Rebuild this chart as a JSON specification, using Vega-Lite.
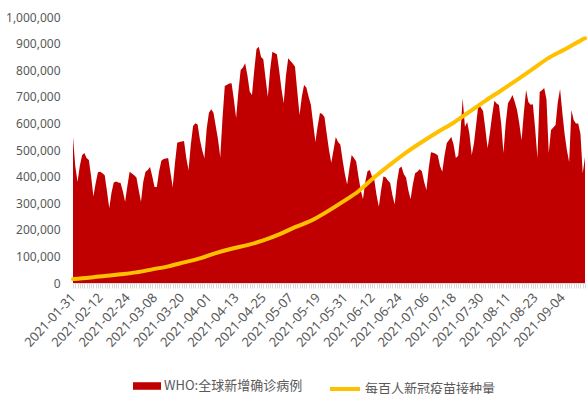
{
"$schema": "https://vega.github.io/schema/vega-lite/v6.json",
"width": 512, "height": 266,
"autosize": "none",
"padding": {"left": 73, "top": 17, "right": 3, "bottom": 111},
"background": "white",
"config": {"view": {"stroke": null}},
"datasets": {
"cases": [
{"d":"2021-01-31","v":549000},{"d":"2021-02-01","v":440000},{"d":"2021-02-02","v":380000},{"d":"2021-02-03","v":440000},{"d":"2021-02-04","v":480000},{"d":"2021-02-05","v":489000},{"d":"2021-02-06","v":470000},{"d":"2021-02-07","v":462000},{"d":"2021-02-08","v":400000},{"d":"2021-02-09","v":325000},
{"d":"2021-02-10","v":375000},{"d":"2021-02-11","v":416000},{"d":"2021-02-12","v":418000},{"d":"2021-02-13","v":413000},{"d":"2021-02-14","v":405000},{"d":"2021-02-15","v":345000},{"d":"2021-02-16","v":281000},{"d":"2021-02-17","v":340000},{"d":"2021-02-18","v":378000},{"d":"2021-02-19","v":382000},
{"d":"2021-02-20","v":378000},{"d":"2021-02-21","v":376000},{"d":"2021-02-22","v":345000},{"d":"2021-02-23","v":305000},{"d":"2021-02-24","v":365000},{"d":"2021-02-25","v":418000},{"d":"2021-02-26","v":412000},{"d":"2021-02-27","v":405000},{"d":"2021-02-28","v":397000},{"d":"2021-03-01","v":350000},
{"d":"2021-03-02","v":305000},{"d":"2021-03-03","v":380000},{"d":"2021-03-04","v":418000},{"d":"2021-03-05","v":425000},{"d":"2021-03-06","v":436000},{"d":"2021-03-07","v":400000},{"d":"2021-03-08","v":361000},{"d":"2021-03-09","v":361000},{"d":"2021-03-10","v":420000},{"d":"2021-03-11","v":460000},
{"d":"2021-03-12","v":466000},{"d":"2021-03-13","v":468000},{"d":"2021-03-14","v":470000},{"d":"2021-03-15","v":415000},{"d":"2021-03-16","v":361000},{"d":"2021-03-17","v":450000},{"d":"2021-03-18","v":527000},{"d":"2021-03-19","v":530000},{"d":"2021-03-20","v":532000},{"d":"2021-03-21","v":534000},
{"d":"2021-03-22","v":470000},{"d":"2021-03-23","v":425000},{"d":"2021-03-24","v":520000},{"d":"2021-03-25","v":590000},{"d":"2021-03-26","v":601000},{"d":"2021-03-27","v":596000},{"d":"2021-03-28","v":540000},{"d":"2021-03-29","v":500000},{"d":"2021-03-30","v":470000},{"d":"2021-03-31","v":580000},
{"d":"2021-04-01","v":640000},{"d":"2021-04-02","v":653000},{"d":"2021-04-03","v":640000},{"d":"2021-04-04","v":590000},{"d":"2021-04-05","v":540000},{"d":"2021-04-06","v":474000},{"d":"2021-04-07","v":620000},{"d":"2021-04-08","v":741000},{"d":"2021-04-09","v":745000},{"d":"2021-04-10","v":750000},
{"d":"2021-04-11","v":751000},{"d":"2021-04-12","v":690000},{"d":"2021-04-13","v":620000},{"d":"2021-04-14","v":720000},{"d":"2021-04-15","v":801000},{"d":"2021-04-16","v":810000},{"d":"2021-04-17","v":826000},{"d":"2021-04-18","v":780000},{"d":"2021-04-19","v":720000},{"d":"2021-04-20","v":707000},
{"d":"2021-04-21","v":800000},{"d":"2021-04-22","v":880000},{"d":"2021-04-23","v":888000},{"d":"2021-04-24","v":850000},{"d":"2021-04-25","v":841000},{"d":"2021-04-26","v":770000},{"d":"2021-04-27","v":699000},{"d":"2021-04-28","v":800000},{"d":"2021-04-29","v":869000},{"d":"2021-04-30","v":865000},
{"d":"2021-05-01","v":860000},{"d":"2021-05-02","v":800000},{"d":"2021-05-03","v":730000},{"d":"2021-05-04","v":676000},{"d":"2021-05-05","v":780000},{"d":"2021-05-06","v":845000},{"d":"2021-05-07","v":835000},{"d":"2021-05-08","v":825000},{"d":"2021-05-09","v":813000},{"d":"2021-05-10","v":720000},
{"d":"2021-05-11","v":632000},{"d":"2021-05-12","v":700000},{"d":"2021-05-13","v":744000},{"d":"2021-05-14","v":735000},{"d":"2021-05-15","v":700000},{"d":"2021-05-16","v":670000},{"d":"2021-05-17","v":600000},{"d":"2021-05-18","v":530000},{"d":"2021-05-19","v":590000},{"d":"2021-05-20","v":639000},
{"d":"2021-05-21","v":635000},{"d":"2021-05-22","v":624000},{"d":"2021-05-23","v":560000},{"d":"2021-05-24","v":500000},{"d":"2021-05-25","v":452000},{"d":"2021-05-26","v":500000},{"d":"2021-05-27","v":549000},{"d":"2021-05-28","v":530000},{"d":"2021-05-29","v":521000},{"d":"2021-05-30","v":462000},
{"d":"2021-05-31","v":410000},{"d":"2021-06-01","v":370000},{"d":"2021-06-02","v":430000},{"d":"2021-06-03","v":481000},{"d":"2021-06-04","v":470000},{"d":"2021-06-05","v":457000},{"d":"2021-06-06","v":400000},{"d":"2021-06-07","v":350000},{"d":"2021-06-08","v":315000},{"d":"2021-06-09","v":380000},
{"d":"2021-06-10","v":420000},{"d":"2021-06-11","v":425000},{"d":"2021-06-12","v":400000},{"d":"2021-06-13","v":387000},{"d":"2021-06-14","v":330000},{"d":"2021-06-15","v":287000},{"d":"2021-06-16","v":350000},{"d":"2021-06-17","v":400000},{"d":"2021-06-18","v":398000},{"d":"2021-06-19","v":385000},
{"d":"2021-06-20","v":376000},{"d":"2021-06-21","v":330000},{"d":"2021-06-22","v":295000},{"d":"2021-06-23","v":380000},{"d":"2021-06-24","v":430000},{"d":"2021-06-25","v":438000},{"d":"2021-06-26","v":410000},{"d":"2021-06-27","v":397000},{"d":"2021-06-28","v":350000},{"d":"2021-06-29","v":315000},
{"d":"2021-06-30","v":370000},{"d":"2021-07-01","v":413000},{"d":"2021-07-02","v":418000},{"d":"2021-07-03","v":428000},{"d":"2021-07-04","v":420000},{"d":"2021-07-05","v":380000},{"d":"2021-07-06","v":350000},{"d":"2021-07-07","v":430000},{"d":"2021-07-08","v":492000},{"d":"2021-07-09","v":490000},
{"d":"2021-07-10","v":486000},{"d":"2021-07-11","v":480000},{"d":"2021-07-12","v":440000},{"d":"2021-07-13","v":418000},{"d":"2021-07-14","v":480000},{"d":"2021-07-15","v":526000},{"d":"2021-07-16","v":538000},{"d":"2021-07-17","v":549000},{"d":"2021-07-18","v":520000},{"d":"2021-07-19","v":470000},
{"d":"2021-07-20","v":478000},{"d":"2021-07-21","v":560000},{"d":"2021-07-22","v":695000},{"d":"2021-07-23","v":587000},{"d":"2021-07-24","v":605000},{"d":"2021-07-25","v":560000},{"d":"2021-07-26","v":481000},{"d":"2021-07-27","v":526000},{"d":"2021-07-28","v":600000},{"d":"2021-07-29","v":676000},
{"d":"2021-07-30","v":660000},{"d":"2021-07-31","v":647000},{"d":"2021-08-01","v":580000},{"d":"2021-08-02","v":507000},{"d":"2021-08-03","v":564000},{"d":"2021-08-04","v":630000},{"d":"2021-08-05","v":685000},{"d":"2021-08-06","v":675000},{"d":"2021-08-07","v":669000},{"d":"2021-08-08","v":600000},
{"d":"2021-08-09","v":489000},{"d":"2021-08-10","v":600000},{"d":"2021-08-11","v":676000},{"d":"2021-08-12","v":690000},{"d":"2021-08-13","v":707000},{"d":"2021-08-14","v":680000},{"d":"2021-08-15","v":650000},{"d":"2021-08-16","v":600000},{"d":"2021-08-17","v":537000},{"d":"2021-08-18","v":640000},
{"d":"2021-08-19","v":726000},{"d":"2021-08-20","v":680000},{"d":"2021-08-21","v":670000},{"d":"2021-08-22","v":672000},{"d":"2021-08-23","v":580000},{"d":"2021-08-24","v":470000},{"d":"2021-08-25","v":718000},{"d":"2021-08-26","v":725000},{"d":"2021-08-27","v":733000},{"d":"2021-08-28","v":690000},
{"d":"2021-08-29","v":489000},{"d":"2021-08-30","v":575000},{"d":"2021-08-31","v":585000},{"d":"2021-09-01","v":594000},{"d":"2021-09-02","v":680000},{"d":"2021-09-03","v":729000},{"d":"2021-09-04","v":640000},{"d":"2021-09-05","v":560000},{"d":"2021-09-06","v":500000},{"d":"2021-09-07","v":455000},
{"d":"2021-09-08","v":650000},{"d":"2021-09-09","v":613000},{"d":"2021-09-10","v":600000},{"d":"2021-09-11","v":600000},{"d":"2021-09-12","v":560000},{"d":"2021-09-13","v":413000},{"d":"2021-09-14","v":474000}
],
"vaccine": [
{"d":"2021-01-31","p":1.2},{"d":"2021-02-07","p":1.6},{"d":"2021-02-14","p":2.1},{"d":"2021-02-21","p":2.6},{"d":"2021-02-28","p":3.2},{"d":"2021-03-07","p":4.1},{"d":"2021-03-14","p":5.0},{"d":"2021-03-21","p":6.2},{"d":"2021-03-28","p":7.4},{"d":"2021-04-04","p":9.0},
{"d":"2021-04-11","p":10.3},{"d":"2021-04-18","p":11.4},{"d":"2021-04-25","p":12.8},{"d":"2021-05-02","p":14.6},{"d":"2021-05-09","p":16.8},{"d":"2021-05-16","p":18.7},{"d":"2021-05-23","p":21.4},{"d":"2021-05-30","p":24.4},{"d":"2021-06-06","p":27.6},{"d":"2021-06-13","p":31.8},
{"d":"2021-06-20","p":35.6},{"d":"2021-06-27","p":39.2},{"d":"2021-07-04","p":42.4},{"d":"2021-07-11","p":45.4},{"d":"2021-07-18","p":48.2},{"d":"2021-07-25","p":51.5},{"d":"2021-08-01","p":54.8},{"d":"2021-08-08","p":57.9},{"d":"2021-08-15","p":61.1},{"d":"2021-08-22","p":64.4},
{"d":"2021-08-29","p":67.7},{"d":"2021-09-05","p":70.2},{"d":"2021-09-12","p":72.9},{"d":"2021-09-14","p":73.6}
]
},
"layer": [
{
"data": {"name": "cases"},
"mark": {"type": "area", "color": "#C00000", "interpolate": "linear"},
"encoding": {
"x": {"field": "d", "type": "temporal",
"scale": {"type": "utc", "domain": [{"year": 2021, "month": 1, "date": 31, "utc": true}, {"year": 2021, "month": 9, "date": 14, "utc": true}], "nice": false},
"axis": {"title": null, "grid": false, "tickCount": {"interval": "day", "step": 1},
"labelExpr": "(floor(datum.value/86400000) % 12 == 10) ? utcFormat(datum.value, '%Y-%m-%d') : ''",
"labelOverlap": false, "labelBound": false, "labelFlush": false,
"labelAngle": -47, "labelAlign": "right", "labelBaseline": "middle", "labelPadding": 7,
"labelFont": "Noto Sans", "labelFontSize": 13, "labelColor": "#595959",
"tickColor": "#d9d9d9", "tickSize": 5, "domainColor": "#d9d9d9"}},
"y": {"field": "v", "type": "quantitative",
"scale": {"domain": [0, 1000000], "nice": false},
"axis": {"title": null, "grid": false, "domain": false, "ticks": false, "tickSize": 0,
"values": [0,100000,200000,300000,400000,500000,600000,700000,800000,900000,1000000],
"format": ",d", "labelPadding": 13, "labelFont": "Noto Sans", "labelFontSize": 12, "labelColor": "#595959"}},
"color": {"datum": "WHO:全球新增确诊病例", "type": "nominal", "scale": {"range": ["#C00000"]},
"legend": {"orient": "none", "legendX": 60, "legendY": 355, "title": null,
"symbolType": "M-1,-0.27L1,-0.27L1,0.27L-1,0.27Z", "symbolSize": 784, "symbolStrokeWidth": 0, "symbolOpacity": 1,
"labelFont": "Noto Sans CJK SC", "labelFontSize": 13, "labelColor": "#595959", "labelOffset": 3, "labelLimit": 300, "padding": 0}}
}
},
{
"data": {"name": "vaccine"},
"mark": {"type": "line", "color": "#FFC000", "strokeWidth": 4, "strokeCap": "round", "interpolate": "monotone"},
"encoding": {
"x": {"field": "d", "type": "temporal"},
"y": {"field": "p", "type": "quantitative", "scale": {"domain": [0, 80], "nice": false}, "axis": null},
"color": {"datum": "每百人新冠疫苗接种量", "type": "nominal", "scale": {"range": ["#FFC000"]},
"legend": {"orient": "none", "legendX": 255, "legendY": 355, "title": null,
"symbolType": "M-1,0L1,0", "symbolSize": 900, "symbolStrokeWidth": 4, "symbolStrokeColor": "#FFC000",
"labelFont": "Noto Sans CJK SC", "labelFontSize": 13, "labelColor": "#595959", "labelOffset": 3, "labelLimit": 300, "padding": 0}}
}
}
],
"resolve": {"scale": {"y": "independent", "color": "independent"}}
}
